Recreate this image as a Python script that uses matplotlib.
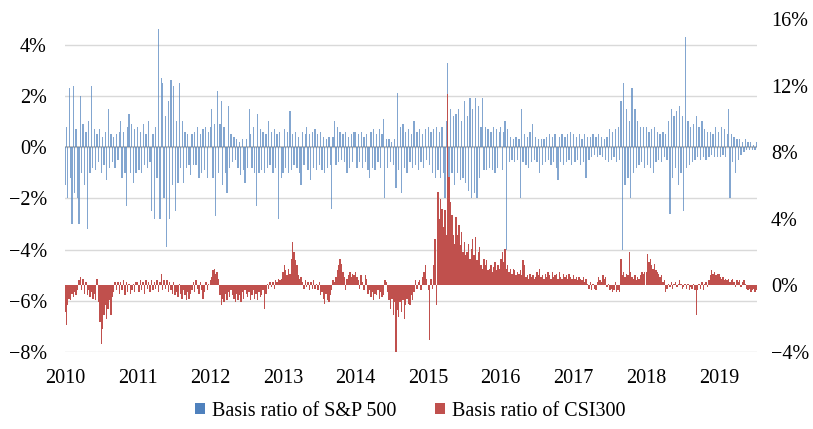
import numpy as np
import pandas as pd
import matplotlib
matplotlib.use('Agg')
import matplotlib.pyplot as plt
import matplotlib.dates as mdates
from matplotlib.patches import Patch
from matplotlib.ticker import FuncFormatter

plt.rcParams['font.family'] = ['Liberation Serif', 'DejaVu Serif']

# weekly basis ratio (%) of S&P 500 futures, one list per year
sp_2010 = [-1.5, 0.8, -2.0, 2.3, -1.2, -3.0, 2.4, -1.8, 0.7, -2.0, -3.0, 2.0, -1.0, 0.9, -1.5, 0.6,
           -3.2, 1.0, -1.0, 2.4, -0.8, 0.7, -0.9, 0.5, -0.6, 0.7, -1.0, 0.4, -0.7, 0.6, -1.3, 1.5,
           -0.8, 0.5, -0.6, 0.4, -0.8, 0.5, -0.5, 0.6, 1.0, -1.2, 0.6, -1.0, -2.3, 0.8, 1.3, -1.0,
           0.9, -1.4, 0.7, -1.0]
sp_2011 = [0.8, -0.9, 0.6, -1.0, 0.9, -0.7, 0.5, -0.8, 1.0, -0.6, -2.5, 0.5, -2.8, 0.8, -1.2, 4.6,
           -2.8, 2.7, 2.5, -2.0, 1.2, -3.9, 1.8, -2.8, 2.6, -1.5, 2.4, -2.5, 1.0, -1.4, 2.5, -0.8,
           1.0, -1.4, 0.6, -0.8, 0.5, -0.7, -1.1, 0.5, -0.7, 0.6, -0.7, 0.8, -1.2, 0.5, -1.0, 0.7,
           -0.9, 0.8, -1.2, 0.6]
sp_2012 = [0.8, 1.5, -1.2, 0.9, -2.7, 2.2, -1.0, 0.9, 1.8, -1.5, 0.8, -1.0, -1.8, 1.6, -0.8, 0.5,
           -0.6, 0.4, -0.5, 0.3, -0.8, 0.2, -1.1, 0.3, -0.9, -1.4, 0.3, -0.8, 1.5, 0.5, -0.8, 0.8,
           -1.0, -2.3, 1.3, -1.0, 0.7, -0.9, 0.6, -1.0, 0.5, -0.8, 1.0, -0.7, 0.6, -1.0, 0.7, -0.8,
           0.5, -2.8, 0.6, -1.2]
sp_2013 = [-1.0, 0.7, -0.8, 0.6, -1.0, 1.4, -0.9, 0.5, -0.7, 0.6, -0.8, 0.4, -1.0, -1.5, 0.6, -0.7,
           0.5, 0.8, -0.9, 0.5, -1.3, 0.6, -0.8, 0.7, -0.9, 0.5, -0.7, 0.6, -0.9, 0.4, -1.0, 0.3,
           -0.8, 0.4, -0.7, -2.4, 0.4, 1.0, -0.7, 0.8, -0.6, 0.6, -0.5, 0.5, -0.6, 0.6, -1.0, 0.4,
           -0.8, 0.5, -0.6, 0.6]
sp_2014 = [0.6, -0.8, 0.5, -0.6, 0.6, -0.8, 0.4, -0.6, 0.5, -0.9, -1.2, 0.6, -0.8, 0.7, -0.9, 0.5,
           -0.6, 0.7, -0.8, 0.5, 1.1, -2.0, 0.3, -0.8, 0.3, -0.6, 0.2, -0.7, 0.3, -1.6, 2.1, -0.9,
           0.8, -1.8, 0.9, -0.8, 0.6, -1.0, 0.7, -0.6, 0.5, -0.8, 1.0, -0.7, 0.6, -0.9, 0.7, -0.6,
           0.5, -0.8, 0.7, -0.5]
sp_2015 = [0.8, -0.7, 0.6, -1.0, 0.7, -1.2, 0.8, -0.9, 0.6, -1.2, 0.8, -1.0, -2.0, 1.0, 3.3, -1.5,
           1.5, -1.0, 1.2, -1.5, 1.3, -1.0, 1.5, -1.3, 1.0, -1.2, 1.8, -1.4, 1.2, -1.7, 1.9, -2.0,
           1.5, -1.8, 1.9, -2.0, 1.6, -1.2, 0.8, 1.9, -0.9, 0.8, -0.9, 0.7, -0.8, 0.6, -0.9, 0.8,
           -1.0, 0.7, -0.8, 0.6]
sp_2016 = [0.8, -0.9, 0.6, 1.0, -4.0, 0.7, -0.6, 0.4, -0.5, 0.3, -0.6, 0.4, -0.5, 0.3, -2.0, 1.5,
           -0.6, 0.5, -0.7, 0.4, -0.8, 0.6, -0.6, 0.9, -0.5, 0.4, -0.6, 0.3, -1.0, 0.3, -0.7, 0.3,
           -0.6, 0.4, -0.5, 0.5, -0.7, 0.4, -0.6, 0.5, -0.8, -1.3, 0.4, -0.6, 0.5, -0.7, 0.4, -0.6,
           0.5, -0.5, 0.6, -0.7]
sp_2017 = [0.5, -0.6, 0.4, -0.5, 0.5, -0.7, 0.3, -0.6, 0.5, -1.2, 0.4, -0.5, 0.4, -0.4, 0.5, -0.3,
           0.4, -0.4, 0.5, -0.3, 0.4, -0.4, 0.3, -0.5, 0.4, -0.6, 0.7, -0.5, 0.6, -0.4, 0.7, -0.6,
           0.8, -0.5, 1.8, -4.0, 2.5, -1.5, 1.5, -1.2, 1.0, -2.0, 2.3, -1.0, 1.5, -0.8, 1.0, -0.7,
           0.8, -0.6, 0.8, -0.8]
sp_2018 = [0.8, -0.7, 0.6, -0.8, 0.7, -1.0, 0.8, -0.6, 0.6, -0.5, 0.5, -0.6, 0.6, -0.4, 0.5, -0.5,
           1.0, -2.6, 1.5, -1.2, 1.2, -0.8, 1.4, -1.5, 1.6, -1.0, 1.2, -2.5, 4.3, -0.8, 1.0, -0.7,
           0.8, -0.6, 0.9, -0.5, 1.2, -0.4, 0.8, -0.5, 1.0, -0.4, 0.7, -0.5, 0.6, -0.4, 0.6, -0.3,
           0.5, -0.4, 0.8, -0.4]
sp_2019 = [0.6, -0.4, 0.8, -0.3, 0.7, -0.4, 0.5, 1.5, -2.0, 0.5, -0.6, 0.4, -1.0, 0.3, -0.5, 0.3,
           -0.3, 0.2, -0.2, 0.3, -0.1, 0.2, -0.1, 0.2, -0.1, 0.1, -0.1, 0.2]

# weekly basis ratio (%) of CSI300 futures
csi_2010 = [-1.6, -2.4, -1.2, -0.8, -0.9, -0.5, -0.7, -0.4, -0.6, -0.3, 0.3, 0.5, -0.3, 0.4, -0.5, 0.2,
            -0.6, -0.3, -0.7, -0.4, -0.8, -0.5, -0.9, 0.4, -1.0, -2.2, -3.5, -2.6, -1.8, -1.2, -2.0, -1.4,
            -0.9, -1.8, -0.7, -0.4, 0.2, -0.3, 0.2, -0.5, 0.2, -0.3, 0.3, -0.6, 0.2, -0.4, 0.1, -0.5,
            -0.3, 0.1, -0.4, 0.2]
csi_2011 = [0.2, -0.4, 0.3, -0.3, 0.2, -0.5, 0.3, -0.2, 0.2, -0.4, 0.3, -0.3, 0.2, -0.2, 0.3, -0.4,
            0.2, 0.7, -0.3, 0.3, -0.2, 0.3, -0.4, 0.2, -0.3, -0.5, 0.2, -0.6, -0.4, -0.7, 0.1, -0.5,
            -0.8, -0.3, -0.6, -0.9, -0.4, -0.8, -0.5, -0.3, 0.2, -0.4, 0.3, -0.2, -0.5, 0.2, -0.3, -0.8,
            -0.4, 0.2, -0.3, 0.1]
csi_2012 = [0.3, 0.5, 0.9, 1.0, 0.7, 0.8, 0.4, -0.6, -1.2, -0.8, -1.0, -0.5, -0.9, -0.4, -0.7, -0.3,
            -0.6, -0.8, -1.0, -0.5, -0.9, -0.6, -1.0, -0.4, -0.8, -0.3, -0.5, -0.7, -0.4, -0.9, -0.6, -0.3,
            -0.8, -0.5, -0.9, -0.4, -0.7, -0.6, -0.3, -1.4, -0.5, 0.1, -0.2, 0.2, -0.1, 0.2, -0.2, 0.3,
            0.2, 0.4, 0.3, 0.4]
csi_2013 = [0.8, 1.2, 0.9, 0.6, 1.0, 0.7, 1.6, 2.6, 2.0, 1.5, 1.2, 0.6, 0.4, 0.5, 0.2, -0.2,
            0.3, -0.1, 0.2, -0.3, 0.2, -0.2, 0.3, -0.2, 0.1, -0.3, 0.2, -0.6, -0.4, -0.8, -1.1, -0.5,
            -0.9, -1.0, -0.6, -0.3, 0.3, 0.2, 0.5, 0.9, 1.2, 1.6, 1.3, 0.8, 0.5, -0.3, 0.4, 0.6,
            0.8, 0.5, 0.7, 0.6]
csi_2014 = [0.8, 0.5, 0.3, -0.2, 0.6, 0.2, -0.3, 0.6, 0.4, -0.5, -0.3, -0.7, -0.4, -0.9, -0.5, -0.6,
            -0.3, -0.8, -0.4, -0.7, -0.6, 0.3, 0.2, -0.4, -0.9, -1.4, -0.8, -1.8, -1.0, -4.1, -1.5, -1.9,
            -1.0, -1.6, -0.9, -2.0, -1.2, -0.8, -1.1, -1.2, -0.6, -0.9, -0.4, 0.3, -0.2, 0.2, 0.3, -0.3,
            0.5, 0.8, 1.2, 0.4]
csi_2015 = [-0.3, -3.3, 0.4, -0.2, 1.2, 2.8, -1.2, 5.6, 4.0, 5.2, 4.6, 3.5, 4.5, 3.0, 11.5, 6.5,
            5.0, 4.2, 3.0, 2.5, 4.1, 3.0, 3.6, 2.4, 3.2, 2.0, 2.6, 1.8, 2.0, 2.5, 1.6, 2.2,
            2.8, 1.8, 2.9, 1.5, 2.0, 2.3, 1.2, 1.0, 1.6, 1.2, 1.5, 0.9, 1.0, 1.2, 0.8, 1.1,
            1.4, 0.9, 1.2, 1.0]
csi_2016 = [1.6, 2.0, 1.4, 2.2, 1.0, 1.2, 0.8, 1.0, 0.7, 1.0, 0.9, 0.6, 0.8, 0.7, 0.9, 0.6,
            1.5, 1.2, 0.5, 0.6, 0.4, 0.7, 0.5, 0.6, 0.4, 0.5, 0.8, 0.6, 1.0, 0.5, 0.6, 0.4,
            0.7, 0.5, 0.8, 0.6, 0.4, 0.8, 0.5, 0.6, 0.7, 0.4, 0.8, 0.5, 0.4, 0.7, 0.5, 0.6,
            0.4, 0.7, 0.5, 0.4]
csi_2017 = [0.6, 0.4, 0.5, 0.3, 0.5, 0.4, 0.3, 0.5, 0.2, 0.4, 0.1, -0.2, 0.2, -0.3, 0.1, -0.2,
            -0.3, 0.2, 0.5, 0.3, 0.2, 0.6, 0.4, 0.5, -0.1, 0.1, -0.3, -0.2, -0.4, -0.3, 0.2, -0.4,
            -0.3, -0.4, 1.6, 0.6, 0.8, 0.5, 0.7, 0.6, 2.0, 0.8, 0.5, 0.4, 0.6, 0.3, 0.5, 0.4,
            0.6, 0.8, 0.7, 0.8]
csi_2018 = [0.8, 1.9, 1.4, 1.6, 1.2, 1.0, 1.3, 0.9, 0.8, 0.7, 0.5, 0.6, 0.2, 0.3, -0.4, -0.2,
            0.1, -0.1, 0.2, -0.2, 0.1, 0.2, -0.1, 0.1, 0.3, 0.1, -0.2, -0.1, 0.1, -0.2, 0.1, -0.3,
            -0.1, -0.2, 0.1, -0.3, -1.8, -0.3, 0.1, -0.2, 0.2, -0.3, 0.1, 0.2, -0.1, 0.3, 0.6, 0.9,
            0.7, 0.8, 0.6, 0.7]
csi_2019 = [0.7, 0.5, 0.4, 0.5, 0.3, 0.4, 0.3, 0.4, 0.2, 0.3, 0.4, 0.2, -0.1, 0.3, 0.2, 0.3,
            -0.1, 0.2, 0.3, 0.1, -0.2, -0.3, -0.2, -0.4, -0.3, -0.2, -0.4, -0.3]

years = list(range(2010, 2020))
sp_years = [sp_2010, sp_2011, sp_2012, sp_2013, sp_2014, sp_2015, sp_2016, sp_2017, sp_2018, sp_2019]
csi_years = [csi_2010, csi_2011, csi_2012, csi_2013, csi_2014, csi_2015, csi_2016, csi_2017, csi_2018, csi_2019]


def weekly_dates(year, n):
    return mdates.date2num(pd.date_range(f'{year}-01-01', periods=n, freq='7D').to_pydatetime())


sp_x = np.concatenate([weekly_dates(y, len(v)) for y, v in zip(years, sp_years)])
sp_y = np.concatenate(sp_years)
csi_x = np.concatenate([weekly_dates(y, len(v)) for y, v in zip(years, csi_years)])
csi_y = np.concatenate(csi_years)

blue = '#4F81BD'
red = '#C0504D'

fig = plt.figure(figsize=(8.13, 4.29), dpi=100)
ax = fig.add_axes([65 / 813, 1 - 352 / 429, (757 - 65) / 813, (352 - 19) / 429])
ax2 = ax.twinx()

ax.bar(sp_x, sp_y, width=6.5, color=blue, linewidth=0, alpha=0.7, zorder=2)
ax.axhline(0, color='#BFBFBF', linewidth=1.4, zorder=1)
ax2.bar(csi_x, csi_y, width=7.0, color=red, linewidth=0, zorder=2)

pct = FuncFormatter(lambda v, p: f'{v:.0f}%'.replace('-', '\u2212'))

ax.set_ylim(-8, 5)
ax.set_yticks(np.arange(-8, 5, 2))
ax.yaxis.set_major_formatter(pct)
ax.grid(axis='y', color='#D9D9D9', linewidth=1.0, zorder=0)
ax.set_axisbelow(True)

ax2.set_ylim(-4, 16)
ax2.set_yticks(np.arange(-4, 17, 4))
ax2.yaxis.set_major_formatter(pct)

ax.set_xlim(mdates.datestr2num('2010-01-01'), mdates.datestr2num('2019-07-12'))
ax.xaxis.set_major_locator(mdates.YearLocator())
ax.xaxis.set_major_formatter(mdates.DateFormatter('%Y'))

for a in (ax, ax2):
    for s in a.spines.values():
        s.set_visible(False)
ax.tick_params(axis='x', length=0, pad=12, labelsize=14.5)
ax.tick_params(axis='y', length=0, pad=13, labelsize=14.5)
ax2.tick_params(axis='y', length=0, pad=10, labelsize=14.5)

handles = [Patch(facecolor=blue, label='Basis ratio of S&P 500'),
           Patch(facecolor=red, label='Basis ratio of CSI300')]
fig.legend(handles=handles, loc='center', bbox_to_anchor=(0.505, 1 - 411 / 429), ncol=2,
           frameon=False, fontsize=14.5, handlelength=0.5, handleheight=0.5,
           handletextpad=0.35, columnspacing=1.9)

fig.savefig('out.png', dpi=100)
